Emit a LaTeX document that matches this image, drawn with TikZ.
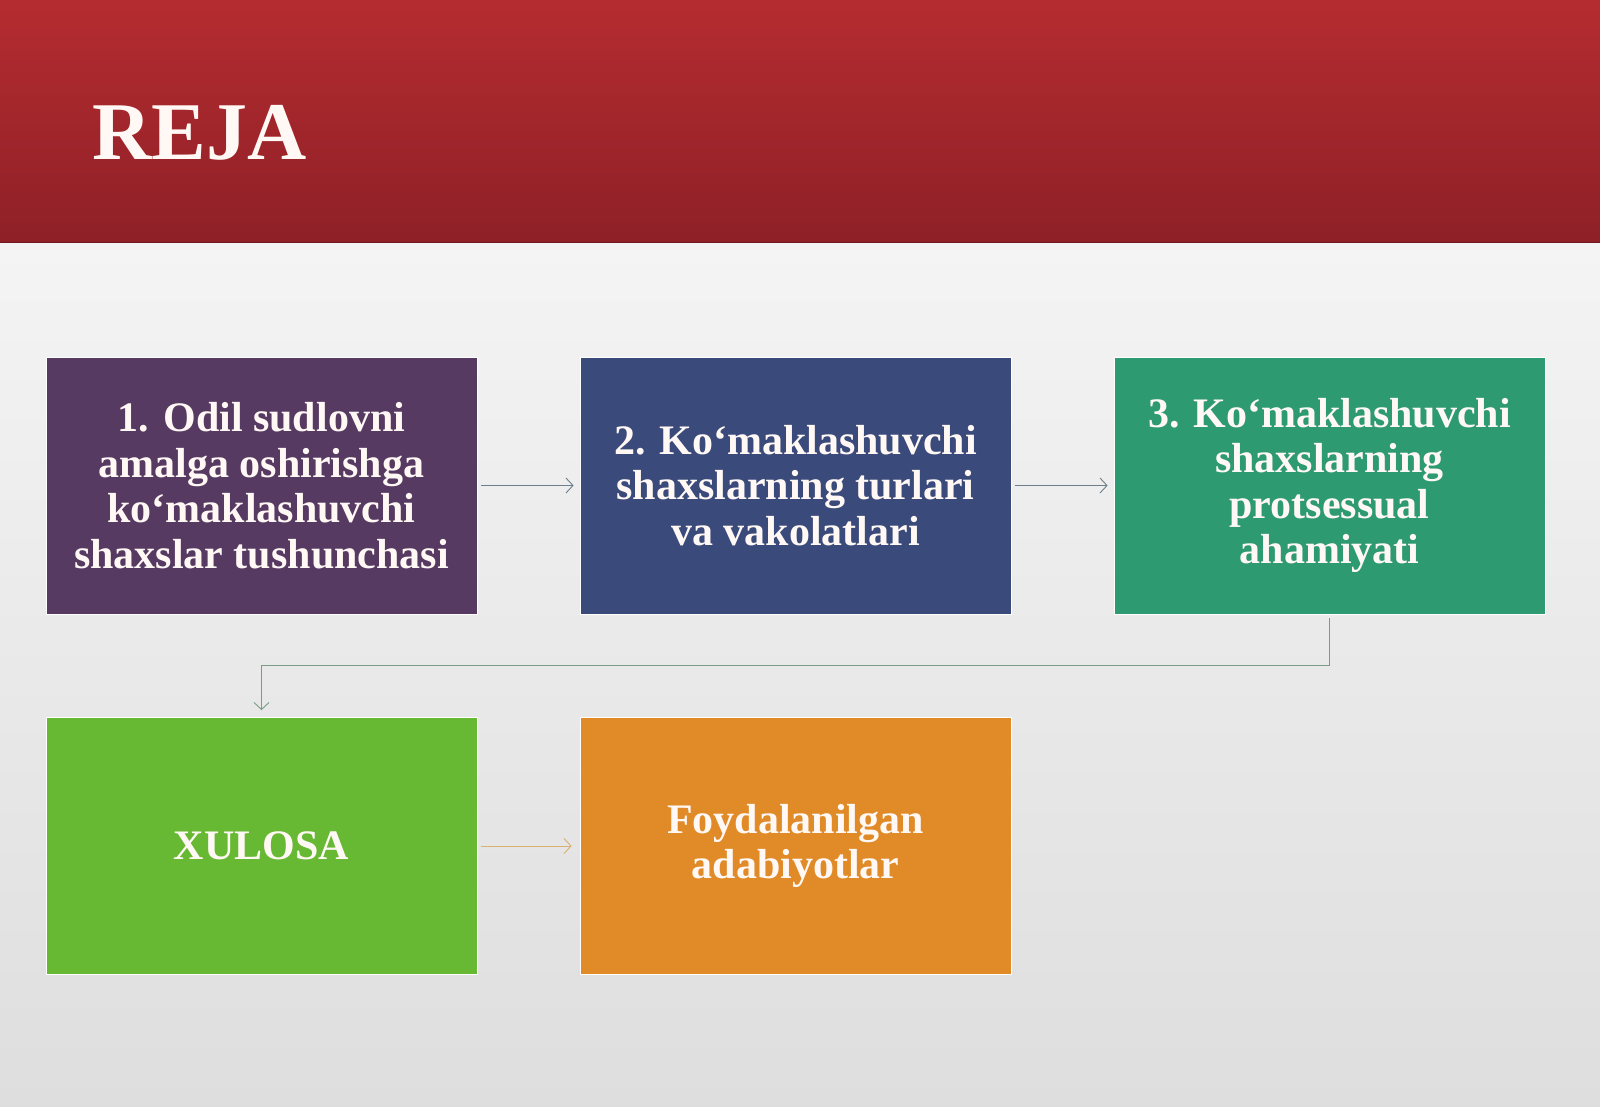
\documentclass[tikz,border=0pt]{standalone}
\usepackage{fontspec}
\setmainfont{Liberation Serif}
\usetikzlibrary{arrows.meta}
\definecolor{hdtop}{HTML}{B52C30}
\definecolor{hdbot}{HTML}{8E2027}
\definecolor{bgtop}{HTML}{F4F4F4}
\definecolor{bgbot}{HTML}{DEDEDE}
\definecolor{cone}{HTML}{573A62}
\definecolor{ctwo}{HTML}{3A4A7A}
\definecolor{cthree}{HTML}{2E9A72}
\definecolor{cfour}{HTML}{67B832}
\definecolor{cfive}{HTML}{E08A28}
\definecolor{arrgray}{HTML}{6E7E8C}
\definecolor{arrgreen}{HTML}{7A9C84}
\definecolor{arrtan}{HTML}{D8B070}
\definecolor{txt}{HTML}{FFF8F4}
\begin{document}
\begin{tikzpicture}[x=1pt,y=-1pt,
  planbox/.style={draw=white, line width=0.8pt, inner sep=0pt, minimum width=431pt, minimum height=257pt,
    text=txt, align=center, font=\bfseries\fontsize{42}{45.5}\selectfont},
  conn/.style={line width=0.9pt, -{Straight Barb[length=7pt,width=15pt]}}]
\useasboundingbox (0,0) rectangle (1600,1107);
\shade[top color=bgtop, bottom color=bgbot] (0,243) rectangle (1600,1107);
\shade[top color=hdtop, bottom color=hdbot] (0,0) rectangle (1600,243);
\draw[hdbot!80!black, line width=1pt] (0,242.5) -- (1600,242.5);
\node[anchor=base west, inner sep=0pt, text=txt, font=\bfseries\fontsize{82}{90}\selectfont] (title) at (92,160) {REJA};

\node[planbox, fill=cone] (b1) at (261.5,485.5) {1. Odil sudlovni\\amalga oshirishga\\ko‘maklashuvchi\\shaxslar tushunchasi};
\node[planbox, fill=ctwo] (b2) at (795.5,485.5) {2. Ko‘maklashuvchi\\shaxslarning turlari\\va vakolatlari};
\node[planbox, fill=cthree] (b3) at (1329.5,485.5) {3. Ko‘maklashuvchi\\shaxslarning\\protsessual\\ahamiyati};
\node[planbox, fill=cfour] (b4) at (261.5,846) {XULOSA};
\node[planbox, fill=cfive] (b5) at (795.5,846) {Foydalanilgan\\adabiyotlar};

\draw[conn, arrgray] ([xshift=4pt]b1.east) -- ([xshift=-6pt]b2.west);
\draw[conn, arrgray] ([xshift=4pt]b2.east) -- ([xshift=-6pt]b3.west);
\draw[conn, arrgreen] ([yshift=-4pt]b3.south) -- ++(0,47) -| ([yshift=7pt]b4.north);
\draw[conn, arrtan] ([xshift=4pt]b4.east) -- ([xshift=-8pt]b5.west);
\end{tikzpicture}
\end{document}
